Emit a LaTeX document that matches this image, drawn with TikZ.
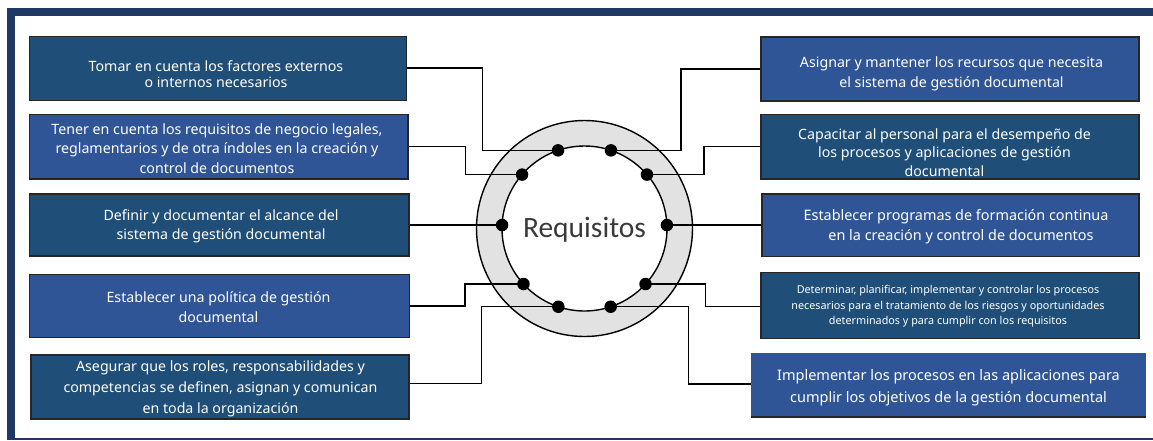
\documentclass[tikz,border=0pt]{standalone}
\usepackage{fontspec}
\newfontfamily\boxfont{Noto Sans}
\newfontfamily\ringfont{Carlito}
\definecolor{framenavy}{HTML}{1F3864}
\definecolor{boxdark}{HTML}{1F4E79}
\definecolor{boxbright}{HTML}{2F5597}
\definecolor{ringgray}{HTML}{E2E2E2}
\definecolor{titlegray}{HTML}{3A3A3A}
\tikzset{
  boxbase/.style={rectangle, inner sep=0pt, draw=black!85, line width=1.5pt},
  boxdk/.style={boxbase, fill=boxdark},
  boxbr/.style={boxbase, fill=boxbright},
  txt/.style={text=white, align=center, inner sep=0pt},
  dot/.style={circle, fill=black, inner sep=0pt, minimum size=12.5pt},
  wire/.style={draw=black, line width=1.4pt},
}
\begin{document}
\begin{tikzpicture}[x=1pt, y=1pt]
\useasboundingbox (0,0) rectangle (1153,-440);

% outer frame
\fill[framenavy] (7,-8) rectangle (15,-440);
\fill[framenavy] (7,-8) rectangle (1153,-16);
\fill[framenavy] (7,-437.5) rectangle (1153,-440);

% central ring
\coordinate (C) at (584.5,-228.5);
\fill[ringgray, draw=black, line width=1.4pt] (C) circle (108);
\fill[white, draw=black, line width=1.4pt] (C) circle (82.5);
\node[font=\ringfont\fontsize{29.5}{33}\selectfont, text=titlegray, inner sep=0pt] (title) at (584.5,-230) {Requisitos};

% left boxes
\node[boxdk, minimum width=377.4, minimum height=64] (b1) at (218,-68.7) {};
\node[boxbr, minimum width=378.7, minimum height=64.7] (b2) at (218.7,-146.7) {};
\node[boxdk, minimum width=379.7, minimum height=62] (b3) at (219.2,-225) {};
\node[boxbr, minimum width=380, minimum height=63.4] (b4) at (219.3,-306) {};
\node[boxdk, minimum width=378, minimum height=64] (b5) at (220,-387) {};

% right boxes
\node[boxbr, minimum width=378.3, minimum height=64.3] (b6) at (949.9,-68.9) {};
\node[boxdk, minimum width=378.3, minimum height=64.7] (b7) at (949.9,-146.7) {};
\node[boxbr, minimum width=377, minimum height=62.7] (b8) at (950.5,-225.3) {};
\node[boxdk, minimum width=378.3, minimum height=66] (b9) at (949.9,-305.3) {};
\node[rectangle, inner sep=0pt, fill=boxbright, minimum width=395, minimum height=64] (b10) at (948.5,-384.7) {};
\draw[black!85, line width=1.5pt] (b10.south west) -- (b10.south east);

% box texts
\node[txt, font=\boxfont\fontsize{14.2}{16.5}\selectfont] (t1) at (216,-74) {Tomar en cuenta los factores externos\\o internos necesarios};
\node[txt, font=\boxfont\fontsize{14.2}{19.5}\selectfont] (t2) at (217,-148.5) {Tener en cuenta los requisitos de negocio legales,\\reglamentarios y de otra índoles en la creación y\\control de documentos};
\node[txt, font=\boxfont\fontsize{14.2}{19}\selectfont] (t3) at (221,-226.5) {Definir y documentar el alcance del\\sistema de gestión documental};
\node[txt, font=\boxfont\fontsize{14.2}{20}\selectfont] (t4) at (218.5,-307.5) {Establecer una política de gestión\\documental};
\node[txt, font=\boxfont\fontsize{14.2}{21}\selectfont] (t5) at (220.5,-388.5) {Asegurar que los roles, responsabilidades y\\competencias se definen, asignan y comunican\\en toda la organización};
\node[txt, font=\boxfont\fontsize{14.2}{20}\selectfont] (t6) at (951.5,-73.5) {Asignar y mantener los recursos que necesita\\el sistema de gestión documental};
\node[txt, font=\boxfont\fontsize{14.2}{18.5}\selectfont] (t7) at (944.5,-152.5) {Capacitar al personal para el desempeño de\\los procesos y aplicaciones de gestión\\documental};
\node[txt, font=\boxfont\fontsize{14.4}{20}\selectfont] (t8) at (956,-226.5) {Establecer programas de formación continua\\\hspace*{10pt}en la creación y control de documentos};
\node[txt, font=\boxfont\fontsize{10.8}{15.5}\selectfont] (t9) at (948,-306.5) {Determinar, planificar, implementar y controlar los procesos\\necesarios para el tratamiento de los riesgos y oportunidades\\determinados y para cumplir con los requisitos};
\node[txt, font=\boxfont\fontsize{14.5}{22.5}\selectfont] (t10) at (948.5,-387.5) {Implementar los procesos en las aplicaciones para\\cumplir los objetivos de la gestión documental};

% connection points on the inner circle
\node[dot] (d1) at ([shift={(108.7:82.5)}]C) {};
\node[dot] (d2) at ([shift={(139.2:82.5)}]C) {};
\node[dot] (d3) at ([shift={(177.6:82.5)}]C) {};
\node[dot] (d4) at ([shift={(-137.7:82.5)}]C) {};
\node[dot] (d5) at ([shift={(-108.5:82.5)}]C) {};
\node[dot] (d6) at ([shift={(71.3:82.5)}]C) {};
\node[dot] (d7) at ([shift={(40.8:82.5)}]C) {};
\node[dot] (d8) at ([shift={(2.4:82.5)}]C) {};
\node[dot] (d9) at ([shift={(-42.3:82.5)}]C) {};
\node[dot] (d10) at ([shift={(-71.5:82.5)}]C) {};

% bend columns of the connectors
\coordinate (x1) at (482.7,0);
\coordinate (x2) at (465.7,0);
\coordinate (x4) at (465,0);
\coordinate (x5) at (481.7,0);
\coordinate (x6) at (681,0);
\coordinate (x7) at (704,0);
\coordinate (x9) at (705.3,0);
\coordinate (x10) at (688.3,0);

% connectors
\draw[wire] ([yshift=0.8]b1.east) -| (d1 -| x1) -- (d1.center);
\draw[wire] (b2.east) -| (d2 -| x2) -- (d2.center);
\draw[wire] (d3.center) -- (d3 -| b3.east);
\draw[wire] (b4.east) -| (d4 -| x4) -- (d4.center);
\draw[wire] ([yshift=3.6]b5.east) -| (d5 -| x5) -- (d5.center);
\draw[wire] (b6.west) -| (d6 -| x6) -- (d6.center);
\draw[wire] (b7.west) -| (d7 -| x7) -- (d7.center);
\draw[wire] (d8.center) -- (d8 -| b8.west);
\draw[wire] ([yshift=-1]b9.west) -| (d9 -| x9) -- (d9.center);
\draw[wire] ([yshift=0.6]b10.west) -| (d10 -| x10) -- (d10.center);
\end{tikzpicture}
\end{document}
